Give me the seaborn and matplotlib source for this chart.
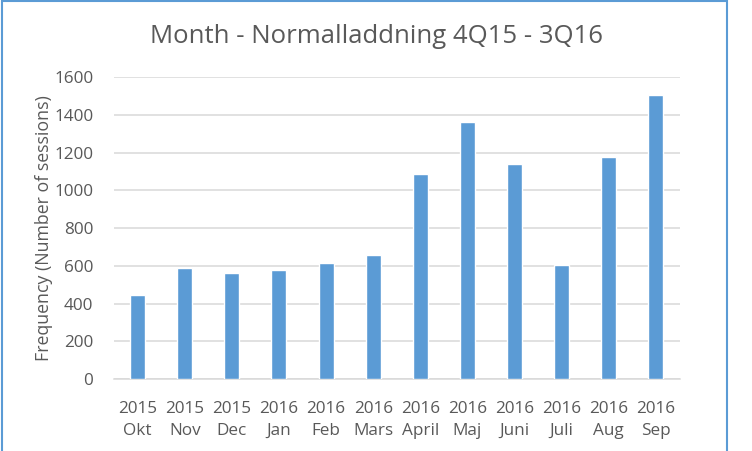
import pandas as pd
import seaborn as sns
import matplotlib.pyplot as plt
from matplotlib.patches import Rectangle

# Monthly session counts
years = ['2015', '2015', '2015', '2016', '2016', '2016',
         '2016', '2016', '2016', '2016', '2016', '2016']
months = ['Okt', 'Nov', 'Dec', 'Jan', 'Feb', 'Mars',
          'April', 'Maj', 'Juni', 'Juli', 'Aug', 'Sep']
sessions = [445, 588, 562, 577, 614, 657, 1087, 1360, 1140, 604, 1178, 1503]

labels = [f"{y}\n{m}" for y, m in zip(years, months)]
df = pd.DataFrame({'label': labels, 'sessions': sessions})

sns.set_style('white')
plt.rcParams['font.family'] = ['Open Sans', 'DejaVu Sans']

text_col = '#595959'
bar_col = '#5b9bd5'

fig = plt.figure(figsize=(7.52, 4.51), dpi=100)
ax = fig.add_axes([0.1516, 0.1596, 0.752, 0.6694])

sns.barplot(data=df, x='label', y='sessions', color=bar_col, width=0.32,
            saturation=1, ax=ax, zorder=3)

ax.set_ylim(0, 1600)
ax.set_xlim(-0.5, len(labels) - 0.5)
ax.set_yticks(range(0, 1601, 200))
ax.yaxis.grid(True, color='#d9d9d9', linewidth=1.1, zorder=0)
ax.xaxis.grid(False)
for side in ['top', 'right', 'left']:
    ax.spines[side].set_visible(False)
ax.spines['bottom'].set_color('#d9d9d9')
ax.spines['bottom'].set_linewidth(1.1)

ax.tick_params(axis='both', length=0, labelsize=12.3, colors=text_col)
ax.tick_params(axis='y', pad=15)
ax.tick_params(axis='x', pad=16)
for t in ax.get_xticklabels():
    t.set_linespacing(1.5)

ax.set_xlabel('')
ax.set_ylabel('Frequency (Number of sessions)', fontsize=12.8, color=text_col, labelpad=1)

fig.text(0.5, 0.918, 'Month - Normalladdning 4Q15 - 3Q16', ha='center', va='center',
         fontsize=18.5, color=text_col)

# outer chart border
fig.patches.append(Rectangle((0.003, -0.05), 0.964, 1.047, transform=fig.transFigure,
                             fill=False, edgecolor='#5b9bd5', linewidth=1.5))

fig.savefig('out.png', dpi=100)
